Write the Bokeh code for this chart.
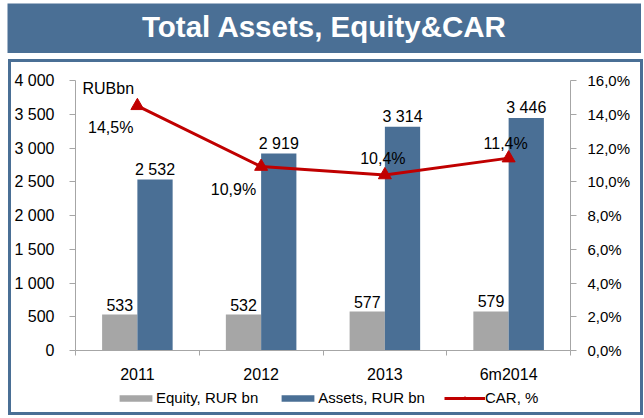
from bokeh.plotting import figure
from bokeh.layouts import column
from bokeh.models import Range1d, LinearAxis, FixedTicker, Legend, LegendItem
from bokeh.core.properties import value
from bokeh.embed import file_html
from bokeh.resources import INLINE

# ---- data ----
title = "Total Assets, Equity&CAR"
unit_label = "RUBbn"
categories = ["2011", "2012", "2013", "6m2014"]
equity = [533, 532, 577, 579]
assets = [2532, 2919, 3314, 3446]
car = [14.5, 10.9, 10.4, 11.4]
series_names = ["Equity, RUR bn", "Assets, RUR bn", "CAR, %"]
left_ticks = [0, 500, 1000, 1500, 2000, 2500, 3000, 3500, 4000]
right_ticks = [0, 2, 4, 6, 8, 10, 12, 14, 16]


def fmt_num(v):
    return f"{v:,}".replace(",", " ")


def fmt_pct(v):
    return f"{v:.1f}%".replace(".", ",")


# ---- styles ----
FONT = "Liberation Sans"
BLUE = "#4a6f95"
GRAY = "#a6a6a6"
RED = "#c00000"
AXIS = "#a6a6a6"
BAR_W = 0.285
car_align = ["right", "right", "center", "center"]
car_dx = [-4, -5, -2, -3]
car_dy = [22, 23, -17, -15]

n = len(categories)
xc = [i + 0.5 for i in range(n)]
x_eq = [x - BAR_W / 2 for x in xc]
x_as = [x + BAR_W / 2 for x in xc]


def bare(fig):
    fig.xgrid.visible = False
    fig.ygrid.visible = False
    fig.outline_line_color = None


# ---- banner ----
banner = figure(width=634, height=50, x_range=Range1d(0, 1), y_range=Range1d(0, 1),
                title=None, output_backend="svg", toolbar_location=None,
                x_axis_location=None, y_axis_location=None, min_border=0,
                margin=(3, 0, 0, 7))
bare(banner)
banner.background_fill_color = BLUE
banner.border_fill_color = BLUE
banner.text(x=[0.5], y=[0.5], text=[title], text_align="center",
            text_baseline="alphabetic", y_offset=-2, text_color="white",
            text_font=value(FONT), text_font_style="bold", text_font_size="29.5px")

# ---- main chart ----
p = figure(width=629, height=323, x_range=Range1d(0, n), y_range=Range1d(0, 4000),
           title=None, output_backend="svg", toolbar_location=None,
           min_border_left=61, min_border_right=70, min_border_top=18,
           min_border_bottom=34)
bare(p)
p.background_fill_color = "white"
p.border_fill_color = "white"
p.extra_y_ranges = {"car": Range1d(0, 16)}

# x axis
xa = p.xaxis[0]
xa.ticker = FixedTicker(ticks=xc, minor_ticks=list(range(n + 1)))
xa.major_label_overrides = {x: c for x, c in zip(xc, categories)}
xa.major_tick_line_color = None
xa.major_tick_out = 0
xa.major_tick_in = 0
xa.minor_tick_out = 5
xa.minor_tick_in = 0
xa.minor_tick_line_color = AXIS
xa.axis_line_color = AXIS
xa.major_label_standoff = 10
xa.major_label_text_font = FONT
xa.major_label_text_font_size = "16px"
xa.major_label_text_color = "black"

# left axis
ya = p.yaxis[0]
ya.ticker = FixedTicker(ticks=left_ticks, minor_ticks=[])
ya.major_label_overrides = {t: fmt_num(t) for t in left_ticks}
ya.major_tick_out = 6
ya.major_tick_in = 0
ya.major_tick_line_color = AXIS
ya.minor_tick_line_color = None
ya.axis_line_color = AXIS
ya.major_label_standoff = 15
ya.major_label_text_font = FONT
ya.major_label_text_font_size = "16px"
ya.major_label_text_color = "black"

# right axis
ra = LinearAxis(y_range_name="car")
ra.ticker = FixedTicker(ticks=right_ticks, minor_ticks=[])
ra.major_label_overrides = {t: fmt_pct(t) for t in right_ticks}
ra.major_tick_out = 6
ra.major_tick_in = 0
ra.major_tick_line_color = AXIS
ra.minor_tick_line_color = None
ra.axis_line_color = AXIS
ra.major_label_standoff = 11
ra.major_label_text_font = FONT
ra.major_label_text_font_size = "15px"
ra.major_label_text_color = "black"
p.add_layout(ra, "right")

# bars
p.vbar(x=x_eq, top=equity, width=BAR_W, fill_color=GRAY, line_color=None)
p.vbar(x=x_as, top=assets, width=BAR_W, fill_color=BLUE, line_color=None)

p.text(x=x_eq, y=equity, text=[fmt_num(v) for v in equity], text_align="center",
       text_baseline="alphabetic", y_offset=-10, text_font=value(FONT),
       text_font_size="16px", text_color="black")
p.text(x=x_as, y=assets, text=[fmt_num(v) for v in assets], text_align="center",
       text_baseline="alphabetic", y_offset=-10, text_font=value(FONT),
       text_font_size="16px", text_color="black")

# CAR line
p.line(x=xc, y=car, y_range_name="car", line_color=RED, line_width=3)
p.scatter(x=xc, y=car, y_range_name="car", marker="triangle", size=13,
          fill_color=RED, line_color=RED)
p.text(x=xc, y=car, y_range_name="car", text=[fmt_pct(v) for v in car],
       text_align=car_align, x_offset=car_dx, y_offset=car_dy,
       text_baseline="alphabetic", text_font=value(FONT), text_font_size="16px",
       text_color="black")

# unit label
p.text(x=[0], y=[4000], text=[unit_label], x_offset=7, y_offset=8,
       text_baseline="alphabetic", text_font=value(FONT), text_font_size="16px",
       text_color="black")

# ---- legend strip (frame is aligned with the chart's frame) ----
lg = figure(width=629, height=27, x_range=Range1d(0, n), y_range=Range1d(-1, 0),
            title=None, output_backend="svg", toolbar_location=None,
            x_axis_location=None, y_axis_location=None, min_border=0)
bare(lg)
lg.background_fill_color = "white"
lg.border_fill_color = "white"
k_eq = lg.vbar(x=x_eq, top=equity, width=BAR_W, fill_color=GRAY, line_color=None,
               visible=False)
k_as = lg.vbar(x=x_as, top=assets, width=BAR_W, fill_color=BLUE, line_color=None,
               visible=False)
k_ln = lg.line(x=xc, y=car, line_color=RED, line_width=3, visible=False)
k_mk = lg.scatter(x=xc, y=car, marker="triangle", size=13, fill_color=RED,
                  line_color=RED, visible=False)

legend = Legend(items=[LegendItem(label=series_names[0], renderers=[k_eq]),
                       LegendItem(label=series_names[1], renderers=[k_as]),
                       LegendItem(label=series_names[2], renderers=[k_ln, k_mk])],
                orientation="horizontal", location=(40, 6),
                border_line_color=None, background_fill_alpha=0,
                padding=0, margin=0, spacing=19, glyph_width=41, glyph_height=8,
                label_height=16, label_standoff=0, label_text_font=FONT,
                label_text_font_size="15px", label_text_color="black")
lg.add_layout(legend)

inner = column(p, lg, spacing=0, margin=(3, 3, 3, 3), styles={"background-color": "white"})
box = column(inner, spacing=0, margin=(6, 0, 0, 8), styles={"background-color": BLUE})
root = column(banner, box, spacing=0)

open("out.html", "w").write(file_html(root, INLINE))
